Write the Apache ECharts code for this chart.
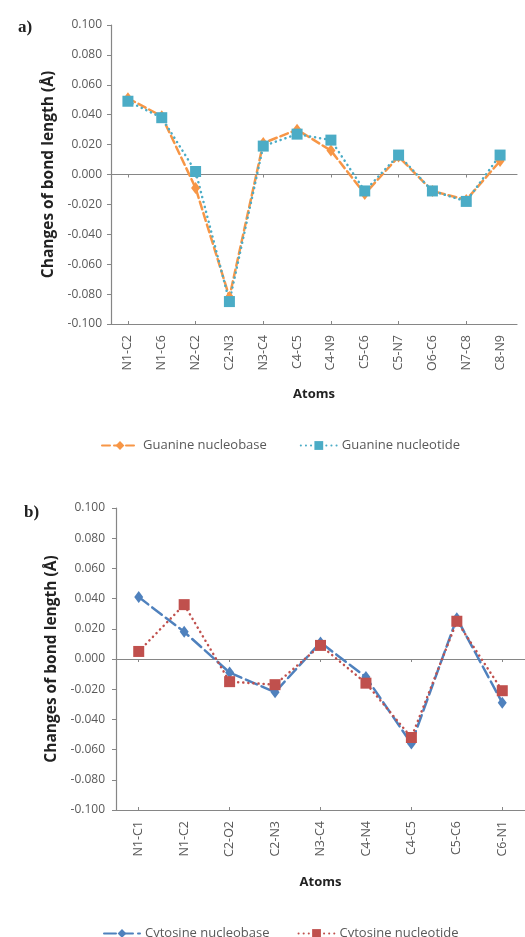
<!DOCTYPE html>
<html>
<head>
<meta charset="utf-8">
<script src="https://cdn.jsdelivr.net/npm/echarts@6/dist/echarts.min.js"></script>
<style>
  html, body { margin: 0; padding: 0; background: #fff; }
  #chart { width: 525px; height: 937px; }
</style>
</head>
<body>
<div id="chart"></div>
<script>
// panel a) guanine
var atomsA = ["N1-C2", "N1-C6", "N2-C2", "C2-N3", "N3-C4", "C4-C5", "C4-N9", "C5-C6", "C5-N7", "O6-C6", "N7-C8", "C8-N9"];
var guanineBase = [0.051, 0.039, -0.009, -0.082, 0.021, 0.030, 0.016, -0.013, 0.012, -0.011, -0.017, 0.009];
var guanineNucl = [0.049, 0.038, 0.002, -0.085, 0.019, 0.027, 0.023, -0.011, 0.013, -0.011, -0.018, 0.013];

// panel b) cytosine
var atomsB = ["N1-C1", "N1-C2", "C2-O2", "C2-N3", "N3-C4", "C4-N4", "C4-C5", "C5-C6", "C6-N1"];
var cytosineBase = [0.041, 0.018, -0.009, -0.022, 0.011, -0.012, -0.056, 0.027, -0.029];
var cytosineNucl = [0.005, 0.036, -0.015, -0.017, 0.009, -0.016, -0.052, 0.025, -0.021];

var yTicks = { min: -0.1, max: 0.1, interval: 0.02 };

var font = "Open Sans";
var grey = "#868686";
var labelColor = "#595959";

function zeroAxis(grid, cats, inside) {
  // the line at 0.000, ticks only (Excel draws labels at the bottom)
  return {
    type: "category", gridIndex: grid, position: "bottom", data: cats,
    boundaryGap: true,
    axisLine: { onZero: true, lineStyle: { color: grey, width: 1.2 } },
    axisTick: { show: true, inside: inside, alignWithLabel: true, length: 3, lineStyle: { color: grey } },
    axisLabel: { show: false }
  };
}

function labelAxis(grid, cats, gap) {
  return {
    type: "category", gridIndex: grid, position: "bottom", data: cats,
    boundaryGap: true,
    axisLine: { show: false, onZero: false },
    axisTick: { show: false },
    axisLabel: { rotate: 90, margin: 11, fontFamily: font, fontSize: 12.5, color: labelColor },
    name: "Atoms", nameLocation: "middle", nameGap: gap,
    nameTextStyle: { fontFamily: font, fontSize: 13, fontWeight: "bold", color: "#222" }
  };
}

function valueAxis(grid, margin) {
  return {
    type: "value", gridIndex: grid,
    min: yTicks.min, max: yTicks.max, interval: yTicks.interval,
    splitLine: { show: false },
    axisLine: { show: true, lineStyle: { color: grey, width: 1.2 } },
    axisTick: { show: true, length: 4, lineStyle: { color: grey } },
    axisLabel: {
      margin: margin, fontFamily: font, fontSize: 12, color: labelColor,
      formatter: function (v) { return v.toFixed(3); }
    },
    name: "Changes of bond length (\u00C5)", nameLocation: "middle", nameGap: 53,
    nameTextStyle: { fontFamily: font, fontSize: 15.5, fontWeight: "bold", color: "#222" }
  };
}

function line(name, data, xi, yi, color, symbol, size, dash) {
  return {
    name: name, type: "line", data: data,
    xAxisIndex: xi, yAxisIndex: yi,
    symbol: symbol, symbolSize: size,
    itemStyle: { color: color },
    lineStyle: { color: color, width: 2.5, type: dash, cap: "round" },
    animation: false
  };
}

var chart = echarts.init(document.getElementById("chart"));

chart.setOption({
  backgroundColor: "#fff",
  title: [
    { text: "a)", left: 13, top: 14, textStyle: { fontFamily: "Liberation Serif", fontSize: 17, fontWeight: "bold", color: "#222" } },
    { text: "b)", left: 19, top: 499, textStyle: { fontFamily: "Liberation Serif", fontSize: 17, fontWeight: "bold", color: "#222" } }
  ],
  grid: [
    { left: 111, top: 25, width: 406, height: 299 },
    { left: 116, top: 508, width: 414, height: 302 }
  ],
  xAxis: [
    zeroAxis(0, atomsA, false), zeroAxis(0, atomsA, true), labelAxis(0, atomsA, 64),
    zeroAxis(1, atomsB, false), zeroAxis(1, atomsB, true), labelAxis(1, atomsB, 66)
  ],
  yAxis: [valueAxis(0, 9), valueAxis(1, 11)],
  legend: [
    {
      data: ["Guanine nucleobase", "Guanine nucleotide"],
      left: 96, top: 434, itemWidth: 36, itemHeight: 11, itemGap: 33,
      textStyle: { fontFamily: font, fontSize: 13, color: labelColor }
    },
    {
      data: ["Cytosine nucleobase", "Cytosine nucleotide"],
      left: 98, top: 922, itemWidth: 36, itemHeight: 11, itemGap: 28,
      textStyle: { fontFamily: font, fontSize: 13, color: labelColor }
    }
  ],
  series: [
    line("Guanine nucleobase", guanineBase, 0, 0, "#F79646", "diamond", [9, 12], [8, 4]),
    line("Guanine nucleotide", guanineNucl, 0, 0, "#4BACC6", "rect", 11, [0.1, 5]),
    line("Cytosine nucleobase", cytosineBase, 3, 1, "#4F81BD", "diamond", [9, 12], [12, 5]),
    line("Cytosine nucleotide", cytosineNucl, 3, 1, "#C0504D", "rect", 11, [0.1, 5])
  ]
});
</script>
</body>
</html>
